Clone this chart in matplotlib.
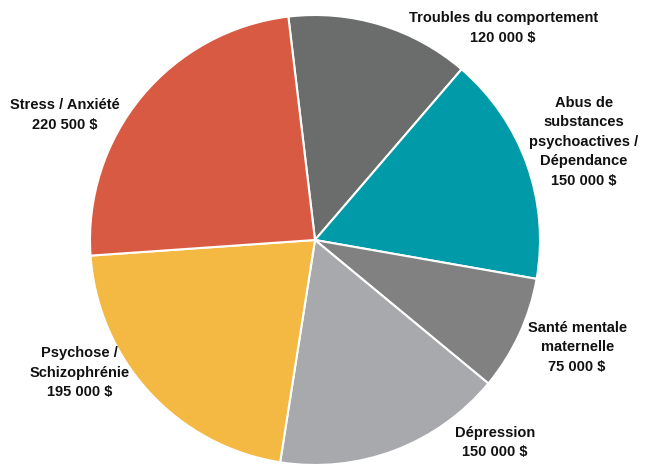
import matplotlib.pyplot as plt
from matplotlib import font_manager

# -------------------------------------------------------
# Données
# -------------------------------------------------------

categories = [
    "Troubles du comportement",
    "Abus de\nsubstances\npsychoactives /\nDépendance",
    "Santé mentale\nmaternelle",
    "Dépression",
    "Psychose /\nSchizophrénie",
    "Stress / Anxiété",
]
montants = [120000, 150000, 75000, 150000, 195000, 220500]
montant_labels = ["120 000 $", "150 000 $", "75 000 $", "150 000 $", "195 000 $", "220 500 $"]

colors = ["#6b6d6c", "#009aa9", "#818181", "#a8a9ac", "#f4b943", "#d95a42"]

# positions des étiquettes (en rayons)
label_pos = [(0.836, 0.942), (1.195, 0.436), (1.165, -0.476),
             (0.80, -0.90), (-1.045, -0.59), (-1.11, 0.556)]

# -------------------------------------------------------
# Police
# -------------------------------------------------------

names = {f.name for f in font_manager.fontManager.ttflist}
if "Liberation Sans Narrow" in names:
    plt.rcParams["font.family"] = ["Liberation Sans Narrow", "Liberation Sans", "DejaVu Sans"]
else:
    plt.rcParams["font.family"] = ["Liberation Sans", "DejaVu Sans"]

# -------------------------------------------------------
# Graphique
# -------------------------------------------------------

fig = plt.figure(figsize=(6.46, 4.66), dpi=100)
ax = fig.add_axes([0, 0, 1, 1])

ax.pie(
    montants,
    colors=colors,
    startangle=96.8,
    counterclock=False,
    radius=1,
    wedgeprops=dict(edgecolor="white", linewidth=1.5),
)

for cat, lab, (x, y) in zip(categories, montant_labels, label_pos):
    ax.text(x, y, cat + "\n" + lab, ha="center", va="center",
            fontsize=10.5, fontweight="bold", linespacing=1.5, color="#111111")

ax.set_xlim(-315 / 225, (646 - 315) / 225)
ax.set_ylim(-226 / 225, 240 / 225)
ax.set_aspect("equal")
ax.axis("off")

plt.savefig("out.png", dpi=100)
